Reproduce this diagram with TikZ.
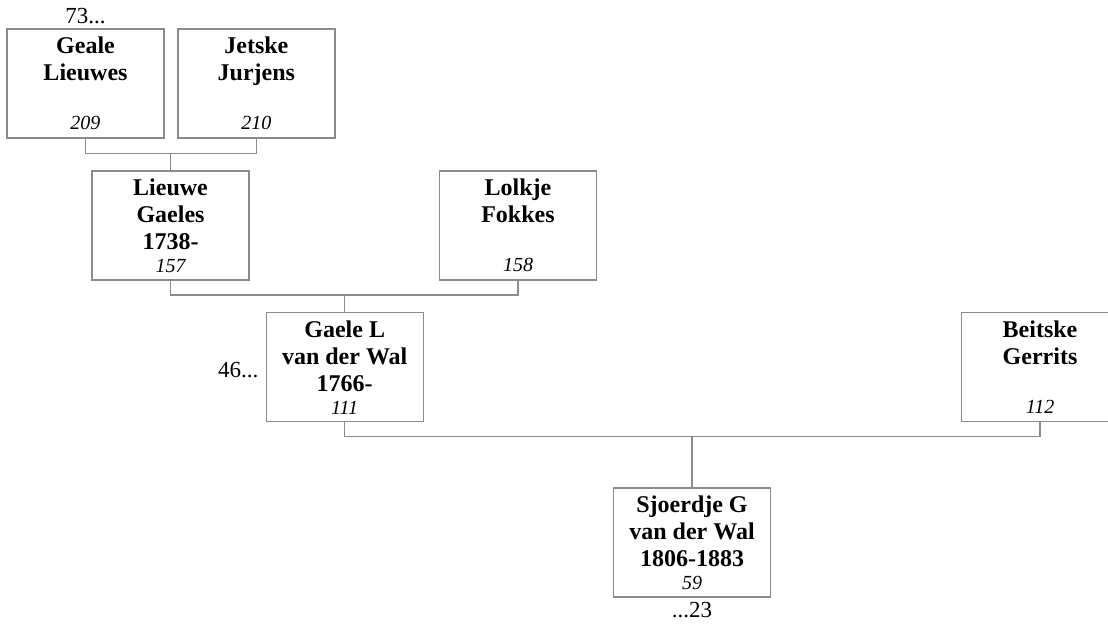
\documentclass[tikz,border=0pt]{standalone}
\usepackage{fontspec}
\setmainfont{Liberation Serif}
\usetikzlibrary{positioning, calc}
\newcommand{\card}[2]{\parbox[c][93pt][s]{154pt}{\centering\bfseries #1\par\vfill{\fontsize{20}{23}\selectfont\mdseries\itshape #2\par}}}

\begin{document}
\begin{tikzpicture}[x=1pt, y=-1pt,
    every node/.style={font=\fontsize{24}{27}\selectfont},
    box/.style={rectangle, draw=black!45, line width=1.2pt, minimum width=157pt, minimum height=109pt, inner sep=0pt, fill=white},
    link/.style={draw=black!45, line width=1.2pt},
    note/.style={inner sep=1pt, font=\fontsize{23}{27}\selectfont}]
  \useasboundingbox (0,0) rectangle (1108,626);

  % generation 1
  \node[box] (geale) at (85.5,83.5) {\card{Geale\\Lieuwes}{209}};
  \node[box, right=12.7pt of geale] (jetske) {\card{Jetske\\Jurjens}{210}};
  % generation 2
  \node[box] (lieuwe) at (170.5,225.5) {\card{Lieuwe\\Gaeles\\1738-}{157}};
  \node[box] (lolkje) at (518,225.5) {\card{Lolkje\\Fokkes}{158}};
  % generation 3
  \node[box] (gaele) at (344.7,367) {\card{Gaele L\\van der Wal\\1766-}{111}};
  \node[box] (beitske) at (1040,367) {\card{Beitske\\Gerrits}{112}};
  % generation 4
  \node[box] (sjoerdje) at (692,542.5) {\card{Sjoerdje G\\van der Wal\\1806-1883}{59}};

  \node[note, above=3pt of geale] (ref73) {73...};
  \node[note, left=6pt of gaele, yshift=-3pt] (ref46) {46...};
  \node[note, below=3pt of sjoerdje] (ref23) {...23};

  \coordinate (j1) at ($(lieuwe.north)+(0,-17)$);
  \coordinate (j2) at ($(gaele.north)+(0,-17)$);
  \coordinate (j3) at ($(sjoerdje.north)+(0,-51)$);

  \draw[link] (geale.south) |- (j1) -| (jetske.south);
  \draw[link] (j1) -- (lieuwe.north);
  \draw[link] (lieuwe.south) |- (j2) -| (lolkje.south);
  \draw[link] (j2) -- (gaele.north);
  \draw[link] (gaele.south) |- (j3) -| (beitske.south);
  \draw[link] (j3) -- (sjoerdje.north);
\end{tikzpicture}
\end{document}
